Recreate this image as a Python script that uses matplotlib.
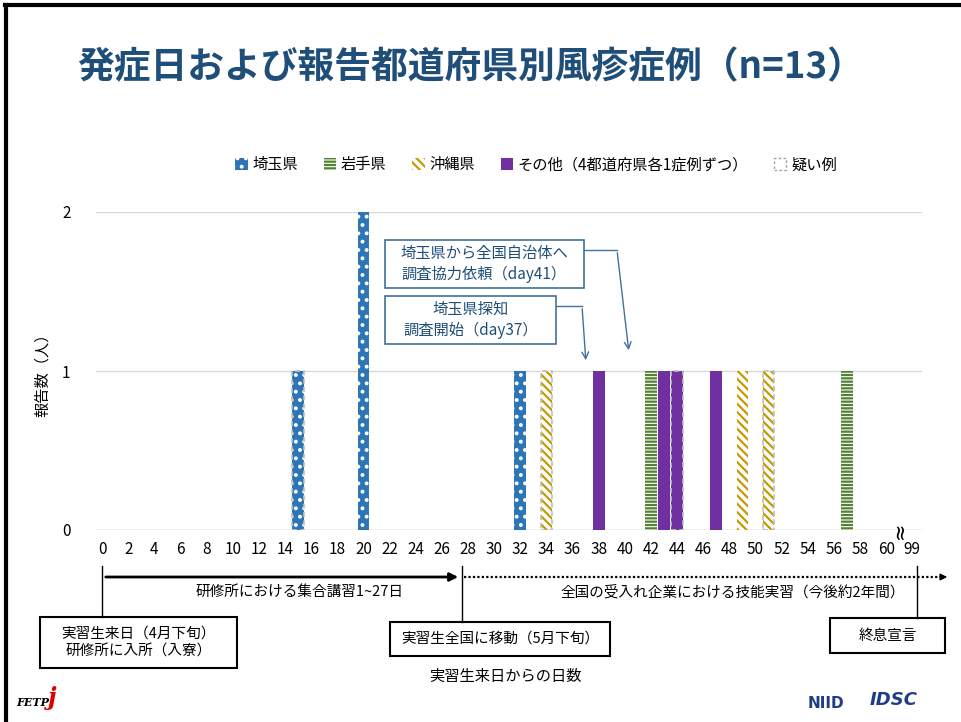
import matplotlib
matplotlib.use('Agg')
import matplotlib.pyplot as plt
from matplotlib.patches import Rectangle, Patch
from matplotlib.lines import Line2D

plt.rcParams['font.family'] = ['Noto Sans CJK JP', 'DejaVu Sans']
plt.rcParams['hatch.linewidth'] = 1.6

# 症例データ（発症日、都道府県、疑い例）
onset_day = [15, 20, 20, 32, 34, 38, 42, 43, 44, 47, 49, 51, 57]
prefecture = ['埼玉県', '埼玉県', '埼玉県', '埼玉県', '沖縄県', 'その他', '岩手県',
              'その他', 'その他', 'その他', '沖縄県', '沖縄県', '岩手県']
suspected = [True, False, False, False, True, False, False, False, True, False, False, True, False]

legend_keys = ['埼玉県', '岩手県', '沖縄県', 'その他']
legend_names = ['埼玉県', '岩手県', '沖縄県', 'その他（4都道府県各1症例ずつ）']
tick_pos = list(range(0, 61, 2)) + [62]
tick_labels = [str(d) for d in range(0, 61, 2)] + ['99']

styles = {
    '埼玉県': dict(facecolor='#2E75B6', edgecolor='white', hatch='..'),
    '岩手県': dict(facecolor='white', edgecolor='#548235', hatch='-----'),
    '沖縄県': dict(facecolor='white', edgecolor='#C59A00', hatch='\\\\\\\\'),
    'その他': dict(facecolor='#7030A0', edgecolor='#7030A0', hatch=None),
}

W, H = 961, 722
fig = plt.figure(figsize=(W / 100, H / 100), dpi=100)


def fp(x, y):
    # 画像上のピクセル座標 -> figure pixels
    return (x, H - y)


ax = fig.add_axes([95.5 / W, 1 - 530 / H, (922 - 95.5) / W, 318 / H])
ax.set_xlim(-0.5, 62.74)
ax.set_ylim(0, 2)

bw = 0.9
stack = {}
for d, p, s in zip(onset_day, prefecture, suspected):
    b = stack.get(d, 0)
    st = styles[p]
    ax.bar(d, 1, width=bw, bottom=b, linewidth=0, zorder=3, **st)
    if s:
        ax.add_patch(Rectangle((d - bw / 2, b), bw, 1, fill=False, edgecolor='#BFBFBF',
                               linestyle=(0, (3, 2)), linewidth=1.2, zorder=4))
    stack[d] = b + 1

ax.set_yticks([0, 1, 2])
ax.yaxis.grid(True, color='#D9D9D9', linewidth=1)
ax.set_axisbelow(True)
for sp in ['top', 'right', 'left', 'bottom']:
    ax.spines[sp].set_visible(False)
ax.axhline(0, color='#D9D9D9', linewidth=1, zorder=2)
ax.set_xticks(tick_pos)
ax.set_xticklabels(tick_labels)
ax.tick_params(length=0, labelsize=11, colors='black', pad=8)
ax.tick_params(axis='y', pad=18)
ax.set_ylabel('報告数（人）', fontsize=11, labelpad=8)
ax.text(61, 0.0, '≈', rotation=90, ha='center', va='center', fontsize=15,
        color='black', zorder=5, family='DejaVu Sans')

# 凡例
handles = [Patch(linewidth=0, **styles[k]) for k in legend_keys]
handles.append(Patch(facecolor='white', edgecolor='#A6A6A6', linestyle=(0, (2, 1.5)), linewidth=1))
fig.legend(handles, legend_names + ['疑い例'], loc='center',
           bbox_to_anchor=(536 / W, 1 - 165 / H), ncol=5, frameon=False,
           fontsize=11, handlelength=0.8, handleheight=0.8, columnspacing=1.7,
           handletextpad=0.3)

# タイトル
fig.text(471 / W, 1 - 68 / H, '発症日および報告都道府県別風疹症例（n=13）', ha='center', va='center',
         fontsize=26.5, fontweight='bold', color='#1F4E79')

# 注釈ボックス
blue = '#41719C'
for (x0, y0, x1, y1), txt in [((385, 240, 584, 288), '埼玉県から全国自治体へ\n調査協力依頼（day41）'),
                              ((385, 296, 556, 344), '埼玉県探知\n調査開始（day37）')]:
    fig.add_artist(Rectangle(fp(x0, y1), x1 - x0, y1 - y0, transform=None, fill=True,
                             facecolor='white', edgecolor=blue, linewidth=1.2, zorder=6))
    fig.text((x0 + x1) / 2 / W, 1 - (y0 + y1) / 2 / H, txt, ha='center', va='center',
             fontsize=11, color='#1F4E79', linespacing=1.35, zorder=7)

fig.add_artist(Line2D([584, 617], [H - 250, H - 250], transform=None, color=blue, lw=1))
ax.annotate('', xy=fp(629, 353), xycoords='figure pixels', xytext=fp(617, 250),
            textcoords='figure pixels',
            arrowprops=dict(arrowstyle='->', color=blue, lw=1, mutation_scale=12))
fig.add_artist(Line2D([556, 582], [H - 306, H - 306], transform=None, color=blue, lw=1))
ax.annotate('', xy=fp(586, 363), xycoords='figure pixels', xytext=fp(582, 306),
            textcoords='figure pixels',
            arrowprops=dict(arrowstyle='->', color=blue, lw=1, mutation_scale=12))

# 時系列
ax.annotate('', xy=fp(461, 577), xycoords='figure pixels', xytext=fp(103, 577),
            textcoords='figure pixels',
            arrowprops=dict(arrowstyle='-|>', color='black', lw=2, mutation_scale=12))
fig.add_artist(Line2D([464, 940], [H - 577, H - 577], transform=None, color='black', lw=1.6,
                      linestyle=(0, (1, 1))))
ax.annotate('', xy=fp(950, 577), xycoords='figure pixels', xytext=fp(940, 577),
            textcoords='figure pixels',
            arrowprops=dict(arrowstyle='-|>', color='black', lw=1, mutation_scale=10))
for x, y1 in [(102, 617), (462, 622), (917, 618)]:
    fig.add_artist(Line2D([x, x], [H - 566, H - y1], transform=None, color='black', lw=1))

fig.text(300 / W, 1 - 592 / H, '研修所における集合講習1~27日', ha='center', va='center', fontsize=10.5)
fig.text(733 / W, 1 - 592 / H, '全国の受入れ企業における技能実習（今後約2年間）', ha='center', va='center',
         fontsize=10.5)
fig.text(505 / W, 1 - 676 / H, '実習生来日からの日数', ha='center', va='center', fontsize=11)

for (x0, y0, x1, y1), txt in [((40, 617, 237, 668), '実習生来日（4月下旬）\n研修所に入所（入寮）'),
                              ((390, 622, 610, 656), '実習生全国に移動（5月下旬）'),
                              ((830, 618, 945, 653), '終息宣言')]:
    fig.add_artist(Rectangle(fp(x0, y1), x1 - x0, y1 - y0, transform=None, fill=False,
                             edgecolor='black', linewidth=1.5))
    fig.text((x0 + x1) / 2 / W, 1 - (y0 + y1) / 2 / H, txt, ha='center', va='center',
             fontsize=10.5, linespacing=1.4)

# 枠線
fig.add_artist(Line2D([6, 6], [0, H - 5], transform=None, color='black', lw=3))
fig.add_artist(Line2D([5, W], [H - 5, H - 5], transform=None, color='black', lw=3))

# ロゴ（文字で代用）
fig.text(16 / W, 1 - 703 / H, 'FETP', fontsize=8, fontweight='bold', style='italic',
         family='DejaVu Serif', va='center')
fig.text(48 / W, 1 - 698 / H, 'j', fontsize=17, fontweight='bold', style='italic',
         color='#E00000', family='DejaVu Serif', va='center')
fig.text(808 / W, 1 - 703 / H, 'NIID', fontsize=11, color='#1F3C88', va='center',
         family='DejaVu Sans', fontweight='bold')
fig.text(870 / W, 1 - 700 / H, 'IDSC', fontsize=13, color='#1F3C88', va='center',
         family='DejaVu Sans', fontweight='bold', style='italic')

fig.savefig('out.png', dpi=100)
